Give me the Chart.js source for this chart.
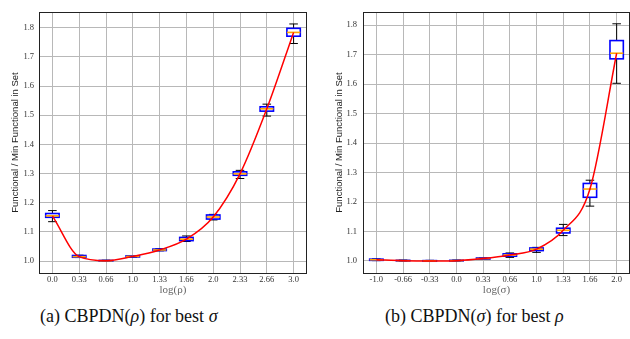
<!DOCTYPE html>
<html>
<head>
<meta charset="utf-8">
<script src="https://cdn.jsdelivr.net/npm/chart.js@4.4.1/dist/chart.umd.min.js"></script>
<style>
    body { margin: 0; background: #fff; width: 630px; height: 339px; overflow: hidden; position: relative; }
    .painel { position: absolute; top: 0; }
    .legenda { position: absolute; top: 306px; font-family: 'Liberation Serif', serif; font-size: 18px; color: #111; white-space: nowrap; }
</style>
</head>
<body>
<div class="painel" style="left:0px"><canvas id="box_rho" width="315" height="300"></canvas></div>
<div class="painel" style="left:320px"><canvas id="box_sigma" width="310" height="300"></canvas></div>
<div class="legenda" style="left:40px">(a) CBPDN(<i>ρ</i>) for best <i>σ</i></div>
<div class="legenda" style="left:385px">(b) CBPDN(<i>σ</i>) for best <i>ρ</i></div>
<script>
/* valores: caixas (min, q1, mediana, q3, max) por categoria */

const labels_rho = ['0.0', '0.33', '0.66', '1.0', '1.33', '1.66', '2.0', '2.33', '2.66', '3.0'];
const rho_min = [1.135, 1.012, 0.999, 1.013, 1.035, 1.067, 1.141, 1.283, 1.497, 1.746];
const rho_q1  = [1.150, 1.013, 1.000, 1.014, 1.036, 1.070, 1.144, 1.294, 1.514, 1.771];
const rho_med = [1.155, 1.015, 1.001, 1.016, 1.038, 1.075, 1.151, 1.299, 1.522, 1.784];
const rho_q3  = [1.163, 1.019, 1.002, 1.018, 1.041, 1.081, 1.158, 1.306, 1.529, 1.798];
const rho_max = [1.173, 1.020, 1.003, 1.019, 1.042, 1.086, 1.160, 1.311, 1.538, 1.813];

const labels_sigma = ['-1.0', '-0.66', '-0.33', '0.0', '0.33', '0.66', '1.0', '1.33', '1.66', '2.0'];
const sigma_min = [1.001, 0.999, 0.999, 0.999, 1.005, 1.012, 1.029, 1.086, 1.186, 1.603];
const sigma_q1  = [1.002, 1.000, 0.999, 1.000, 1.006, 1.016, 1.035, 1.095, 1.216, 1.686];
const sigma_med = [1.004, 1.001, 1.000, 1.001, 1.008, 1.020, 1.040, 1.104, 1.244, 1.705];
const sigma_q3  = [1.006, 1.002, 1.001, 1.002, 1.010, 1.024, 1.044, 1.111, 1.263, 1.748];
const sigma_max = [1.007, 1.003, 1.002, 1.003, 1.011, 1.027, 1.046, 1.124, 1.274, 1.805];

const y_ticks = [1.0, 1.1, 1.2, 1.3, 1.4, 1.5, 1.6, 1.7, 1.8];

Chart.defaults.font.family = "'Liberation Serif', serif";
Chart.defaults.animation = false;

/* plugin que desenha as caixas pelas escalas do proprio grafico */
const plugin_caixas = {
    id: 'caixas',
    beforeDatasetsDraw(chart, args, opts) {
        const ctx = chart.ctx;
        const x = chart.scales.x;
        const y = chart.scales.y;
        const passo = x.getPixelForValue(1) - x.getPixelForValue(0);
        const meia = passo * 0.25;
        const tampa = passo * 0.16;
        ctx.save();
        for (let i = 0; i < opts.med.length; i++) {
            const cx = x.getPixelForValue(i);
            const pMin = y.getPixelForValue(opts.min[i]);
            const pQ1 = y.getPixelForValue(opts.q1[i]);
            const pMed = y.getPixelForValue(opts.med[i]);
            const pQ3 = y.getPixelForValue(opts.q3[i]);
            const pMax = y.getPixelForValue(opts.max[i]);
            // bigodes
            ctx.strokeStyle = '#000';
            ctx.lineWidth = 1;
            ctx.beginPath();
            ctx.moveTo(cx, pQ3); ctx.lineTo(cx, pMax);
            ctx.moveTo(cx, pQ1); ctx.lineTo(cx, pMin);
            ctx.moveTo(cx - tampa, pMax); ctx.lineTo(cx + tampa, pMax);
            ctx.moveTo(cx - tampa, pMin); ctx.lineTo(cx + tampa, pMin);
            ctx.stroke();
            // caixa
            ctx.fillStyle = '#fff';
            ctx.fillRect(cx - meia, pQ3, meia * 2, pQ1 - pQ3);
            ctx.strokeStyle = '#0000ff';
            ctx.lineWidth = 1.6;
            ctx.strokeRect(cx - meia, pQ3, meia * 2, pQ1 - pQ3);
            // mediana
            ctx.strokeStyle = '#ffa500';
            ctx.lineWidth = 1.6;
            ctx.beginPath();
            ctx.moveTo(cx - meia, pMed); ctx.lineTo(cx + meia, pMed);
            ctx.stroke();
        }
        ctx.restore();
    },
    afterDraw(chart) {
        const a = chart.chartArea;
        const ctx = chart.ctx;
        ctx.save();
        ctx.strokeStyle = '#222';
        ctx.lineWidth = 1;
        ctx.strokeRect(Math.round(a.left) + 0.5, Math.round(a.top) + 0.5,
            Math.round(a.right - a.left) - 1, Math.round(a.bottom - a.top));
        ctx.restore();
    }
};

function config_caixas(labels, mn, q1, med, q3, mx, titulo_x, y_min, y_max, largura_y, pad_y, pad_titulo, pad_dir) {
    return {
        type: 'line',
        data: {
            labels: labels,
            datasets: [{
                data: med,
                borderColor: '#ff0000',
                borderWidth: 1.5,
                pointRadius: 0,
                cubicInterpolationMode: 'monotone',
                fill: false
            }]
        },
        options: {
            responsive: false,
            layout: { padding: { top: 12, right: pad_dir, left: 0, bottom: 0 } },
            plugins: {
                legend: { display: false },
                tooltip: { enabled: false },
                caixas: { min: mn, q1: q1, med: med, q3: q3, max: mx }
            },
            scales: {
                x: {
                    type: 'category',
                    offset: true,
                    grid: { offset: false, color: '#b8b8b8', lineWidth: 1, drawTicks: false },
                    border: { display: false },
                    ticks: { color: '#333', font: { size: 8.5 }, padding: 2, maxRotation: 0, autoSkip: false },
                    title: { display: true, text: titulo_x, color: '#666', font: { size: 11, family: "'Liberation Serif', serif" }, padding: { top: 0, bottom: 3 } },
                    afterFit(scale) { scale.height = 27; }
                },
                y: {
                    min: y_min,
                    max: y_max,
                    grid: { color: '#b8b8b8', lineWidth: 1, drawTicks: false },
                    border: { display: false },
                    ticks: { color: '#333', font: { size: 8.5 }, padding: pad_y, callback: v => v.toFixed(1) },
                    afterBuildTicks(scale) { scale.ticks = y_ticks.map(v => ({ value: v })); },
                    title: { display: true, text: 'Functional / Min Functional in Set', color: '#222', font: { size: 9.5, family: "'Liberation Sans', sans-serif" }, padding: { top: pad_titulo, bottom: 0 } },
                    afterFit(scale) { scale.width = largura_y; }
                }
            }
        },
        plugins: [plugin_caixas]
    };
}

const grafico_rho = new Chart(
    document.getElementById('box_rho'),
    config_caixas(labels_rho, rho_min, rho_q1, rho_med, rho_q3, rho_max, 'log(ρ)', 0.959, 1.854, 39, 5, 10, 8)
);

const grafico_sigma = new Chart(
    document.getElementById('box_sigma'),
    config_caixas(labels_sigma, sigma_min, sigma_q1, sigma_med, sigma_q3, sigma_max, 'log(σ)', 0.959, 1.845, 43, 6, 14, 0)
);
</script>
</body>
</html>
